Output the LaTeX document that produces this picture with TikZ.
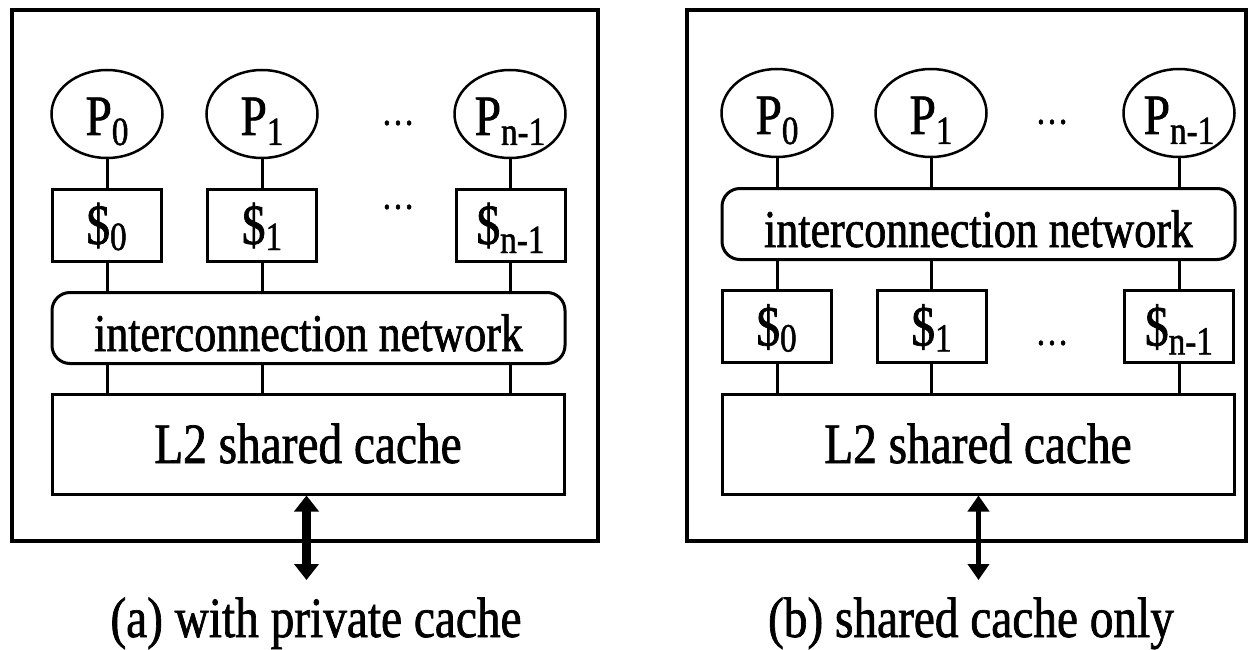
\documentclass[tikz,border=0pt]{standalone}
\usepackage{fontspec}
\newfontfamily\figfont[FakeStretch=0.83,FakeBold=1.2]{Liberation Serif}
\usetikzlibrary{arrows.meta,shapes.geometric}
% lowered index set in a smaller size
\newcommand\lowsub[2]{\raisebox{-#1}{\fontsize{40pt}{40pt}\selectfont #2}}

\begin{document}
\begin{tikzpicture}[x=1pt,y=-1pt,
  every node/.style={font=\figfont\fontsize{57pt}{57pt}\selectfont, inner sep=0pt},
  frame/.style={draw, rectangle, line width=4pt},
  proc/.style={draw, ellipse, line width=2.5pt, minimum width=111pt, minimum height=88pt, text height=42pt, text depth=0pt},
  cachebox/.style={draw, rectangle, line width=3pt, minimum width=109pt, minimum height=72pt, text height=38pt, text depth=0pt},
  netbox/.style={draw, rectangle, rounded corners=18pt, line width=3pt, minimum width=513pt, minimum height=71pt, text height=46pt, text depth=0pt, font=\figfont\fontsize{53pt}{53pt}\selectfont},
  l2box/.style={draw, rectangle, line width=3pt, minimum width=512pt, minimum height=100pt, text height=38pt, text depth=0pt},
  wire/.style={line width=3pt},
  gap/.style={font=\figfont\fontsize{40pt}{40pt}\selectfont},
  bus/.style={{Triangle[length=16pt,width=#1]}-{Triangle[length=16pt,width=#1]}},
  caption/.style={anchor=base}
]
\fill[white] (0,0) rectangle (1253,650);
\useasboundingbox (0,0) rectangle (1253,650);

% ---------- (a) private L1 caches below the processors ----------
\node[frame, minimum width=586pt, minimum height=531pt] (boxa) at (305,275.5) {};
\node[proc] (pa0) at (107,114) {P\lowsub{10pt}{0}};
\node[proc] (pa1) at (262,114) {P\lowsub{10pt}{1}};
\node[proc] (pan) at (510,114) {P\lowsub{10pt}{n-1}};
\node[gap] (pad) at (398,123) {…};
\node[cachebox] (ca0) at (106.5,225) {\$\lowsub{6pt}{0}};
\node[cachebox] (ca1) at (262,225) {\$\lowsub{6pt}{1}};
\node[cachebox] (can) at (510.5,225) {\$\lowsub{9pt}{n-1}};
\node[gap] (cad) at (398,207) {…};
\node[netbox] (neta) at (308.5,328) {interconnection network};
\node[l2box] (l2a) at (308,444) {L2 shared cache};
\foreach \p/\c in {pa0/ca0, pa1/ca1, pan/can}{
  \draw[wire] (\p.south) -- (\p.south |- \c.north);
  \draw[wire] (\p.south |- \c.south) -- (\p.south |- neta.north);
  \draw[wire] (\p.south |- neta.south) -- (\p.south |- l2a.north);
}
\coordinate (exta) at (306.5,580);
\draw[line width=9pt, bus=24pt] (l2a.south -| exta) -- (exta);
\node[caption] (capa) at (316,637) {(a) with private cache};

% ---------- (b) only the shared cache behind the network ----------
\node[frame, minimum width=559pt, minimum height=531pt] (boxb) at (966.5,275.5) {};
\node[proc] (pb0) at (777,113) {P\lowsub{10pt}{0}};
\node[proc] (pb1) at (931,113) {P\lowsub{10pt}{1}};
\node[proc] (pbn) at (1179,113) {P\lowsub{10pt}{n-1}};
\node[gap] (pbd) at (1052,122) {…};
\node[netbox] (netb) at (978.5,224) {interconnection network};
\node[cachebox] (cb0) at (776.5,326.5) {\$\lowsub{6pt}{0}};
\node[cachebox] (cb1) at (931.5,326.5) {\$\lowsub{6pt}{1}};
\node[cachebox] (cbn) at (1179,326.5) {\$\lowsub{9pt}{n-1}};
\node[gap] (cbd) at (1052,343) {…};
\node[l2box] (l2b) at (978,444) {L2 shared cache};
\foreach \p/\c in {pb0/cb0, pb1/cb1, pbn/cbn}{
  \draw[wire] (\p.south) -- (\p.south |- netb.north);
  \draw[wire] (\p.south |- netb.south) -- (\p.south |- \c.north);
  \draw[wire] (\p.south |- \c.south) -- (\p.south |- l2b.north);
}
\coordinate (extb) at (978.5,580);
\draw[line width=5pt, bus=21pt] (l2b.south -| extb) -- (extb);
\node[caption] (capb) at (971,637) {(b) shared cache only};
\end{tikzpicture}
\end{document}
